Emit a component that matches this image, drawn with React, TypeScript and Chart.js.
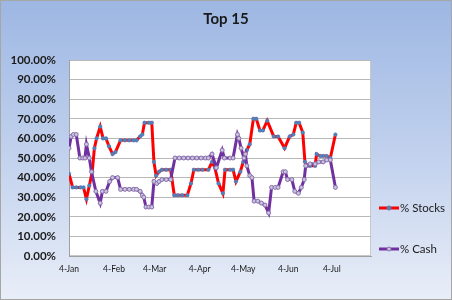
import React, { useEffect, useRef } from "react";
import { Chart, registerables } from "chart.js";

Chart.register(...registerables);

// x = days since 4-Jan
const stockDays = [0, 2.5, 5, 8, 10, 12, 14, 16, 17.5, 19, 21.5, 23.5, 25.5, 27.5, 30, 32, 35.5, 38.5, 41.5, 44.5, 46.5, 49, 50.5, 52, 55, 57, 58.5, 60, 62, 64, 67, 70, 72.5, 75, 78, 81.5, 84, 86, 89, 92, 96, 98.5, 100.5, 103, 106, 107.5, 111, 113, 115, 118, 120, 122.5, 124.5, 127, 129, 131.5, 133.5, 136.5, 141, 144, 148.5, 152, 154.5, 156.5, 158.5, 161, 162.5, 164, 166, 169.5, 170.5, 173, 175, 177.5, 180, 183.5];
const stockValues = [42, 35, 35, 35, 35, 29, 36, 43, 55, 60, 66, 60, 60, 56, 52, 53, 59, 59, 59, 59, 59, 61, 62, 68, 68, 68, 48, 41, 43, 44, 44, 44, 31, 31, 31, 31, 37, 44, 44, 44, 44, 48, 45, 37, 32, 44, 44, 44, 38, 43, 48, 54, 57, 70, 70, 64, 64, 69, 61, 61, 55, 61, 62, 68, 68, 63, 48, 46, 46, 46, 52, 51, 51, 51, 50, 62];

const cashDays = [0, 1.5, 3, 5, 7.5, 9.5, 11, 12, 14, 15.5, 18.5, 21.5, 23, 25.5, 28, 30, 33.5, 35.5, 38.5, 41.5, 44.5, 46.5, 49, 50.5, 51.5, 53, 55, 57, 58.5, 60.5, 62, 64, 67, 70, 73, 76, 79, 82, 85, 88, 91, 94, 96, 98.5, 101.5, 105.5, 107, 111, 113, 116, 117, 118.5, 120.5, 121.5, 122.5, 124.5, 126, 127.5, 130, 132.5, 135, 137.5, 139.5, 142, 144, 147.5, 149, 150.5, 153.5, 155.5, 158, 160, 162, 163, 166, 169.5, 172, 175, 177.5, 180, 183.5];
const cashValues = [55, 61, 62, 62, 50, 50, 50, 57, 50, 43, 33, 27, 33, 33, 38, 40, 40, 34, 34, 34, 34, 34, 33, 31, 30, 25, 25, 25, 38, 37, 38, 39, 39, 39, 50, 50, 50, 50, 50, 50, 50, 50, 50, 52, 45, 54, 50, 50, 50, 62, 60, 55, 50, 52, 46, 41, 40, 28, 28, 27, 26, 22, 35, 35, 35, 43, 43, 39, 39, 33, 32, 35, 39, 46, 47, 47, 48, 48, 49, 49, 35];

const tickDays = [0, 31, 59, 90, 120, 151, 181];
const tickLabels = ["4-Jan", "4-Feb", "4-Mar", "4-Apr", "4-May", "4-Jun", "4-Jul"];

const seriesNames = ["% Stocks", "% Cash"];
const titleText = "Top 15";

const FONT = "Lato, 'Liberation Sans', Arial, sans-serif";

export default function App() {
  const ref = useRef<HTMLCanvasElement | null>(null);

  useEffect(() => {
    document.body.style.margin = "0";
    const canvas = ref.current;
    if (!canvas) return;

    const bgPlugin = {
      id: "bg",
      beforeDraw(chart: any) {
        const { ctx, width, height, chartArea } = chart;
        ctx.save();
        const g = ctx.createLinearGradient(0, 0, 0, height);
        g.addColorStop(0, "#9db7e3");
        g.addColorStop(0.55, "#c4d3ee");
        g.addColorStop(1, "#e9eef8");
        ctx.fillStyle = g;
        ctx.fillRect(0, 0, width, height);
        ctx.strokeStyle = "#a6a6a6";
        ctx.lineWidth = 1;
        ctx.strokeRect(0.5, 0.5, width - 1, height - 1);
        ctx.fillStyle = "#ffffff";
        ctx.fillRect(chartArea.left, chartArea.top, chartArea.right - chartArea.left, chartArea.bottom - chartArea.top);
        ctx.strokeStyle = "#c8c8c8";
        ctx.strokeRect(chartArea.left + 0.5, chartArea.top + 0.5, chartArea.right - chartArea.left - 1, chartArea.bottom - chartArea.top - 1);
        ctx.restore();
      },
      afterDraw(chart: any) {
        const { ctx } = chart;
        ctx.save();
        ctx.fillStyle = "#1a1a1a";
        ctx.font = `bold 15px ${FONT}`;
        ctx.textAlign = "center";
        ctx.textBaseline = "middle";
        ctx.fillText(titleText, 226, 19);

        // legend
        const items = [
          { y: 208, line: "#ff0000", fill: "#4f81bd", stroke: "#4f81bd" },
          { y: 249, line: "#7030a0", fill: "#c9c5dc", stroke: "#8a6fae" },
        ];
        items.forEach((it, i) => {
          ctx.strokeStyle = it.line;
          ctx.lineWidth = 3;
          ctx.beginPath();
          ctx.moveTo(379, it.y);
          ctx.lineTo(399, it.y);
          ctx.stroke();
          ctx.beginPath();
          ctx.arc(389, it.y, 2, 0, Math.PI * 2);
          ctx.fillStyle = it.fill;
          ctx.fill();
          ctx.lineWidth = 1;
          ctx.strokeStyle = it.stroke;
          ctx.stroke();
          ctx.fillStyle = "#1a1a1a";
          ctx.font = `11.5px ${FONT}`;
          ctx.textAlign = "left";
          ctx.textBaseline = "middle";
          ctx.fillText(seriesNames[i], 400, it.y);
        });
        ctx.restore();
      },
    };

    const chart = new Chart(canvas, {
      type: "line",
      data: {
        datasets: [
          {
            label: seriesNames[0],
            data: stockDays.map((d, i) => ({ x: d, y: stockValues[i] })),
            borderColor: "#ff0000",
            borderWidth: 3,
            pointRadius: 1.8,
            pointBackgroundColor: "#4f81bd",
            pointBorderColor: "#4f81bd",
            pointBorderWidth: 0.5,
            tension: 0,
            order: 1,
          },
          {
            label: seriesNames[1],
            data: cashDays.map((d, i) => ({ x: d, y: cashValues[i] })),
            borderColor: "#7030a0",
            borderWidth: 3,
            pointRadius: 2,
            pointBackgroundColor: "#c9c5dc",
            pointBorderColor: "#8a6fae",
            pointBorderWidth: 1,
            tension: 0,
            order: 0,
          },
        ],
      },
      options: {
        responsive: false,
        animation: false,
        devicePixelRatio: 1,
        layout: { padding: { left: 0, top: 60, right: 81, bottom: 0 } },
        plugins: {
          legend: { display: false },
          title: { display: false },
          tooltip: { enabled: false },
        },
        scales: {
          x: {
            type: "linear",
            min: 0,
            max: 208,
            afterBuildTicks: (scale: any) => {
              scale.ticks = tickDays.map((v) => ({ value: v }));
            },
            afterFit: (scale: any) => {
              scale.height = 44;
            },
            ticks: {
              autoSkip: false,
              maxRotation: 0,
              padding: 8,
              color: "#1a1a1a",
              font: { family: FONT, size: 8.5 },
              callback: (v: any) => {
                const i = tickDays.indexOf(Number(v));
                return i >= 0 ? tickLabels[i] : "";
              },
            },
            grid: { display: false, drawTicks: false },
            border: { display: true, color: "#a0a0a0" },
          },
          y: {
            min: 0,
            max: 100,
            afterFit: (scale: any) => {
              scale.width = 69;
            },
            ticks: {
              stepSize: 10,
              padding: 13,
              color: "#1a1a1a",
              font: { family: FONT, size: 11.5, weight: "bold" },
              callback: (v: any) => Number(v).toFixed(2) + "%",
            },
            grid: { color: "#b8b8b8", drawTicks: false },
            border: { display: true, color: "#a0a0a0" },
          },
        },
      },
      plugins: [bgPlugin],
    });

    return () => chart.destroy();
  }, []);

  return (
    <div style={{ width: 452, height: 300 }}>
      <canvas ref={ref} width={452} height={300} style={{ display: "block" }} />
    </div>
  );
}
